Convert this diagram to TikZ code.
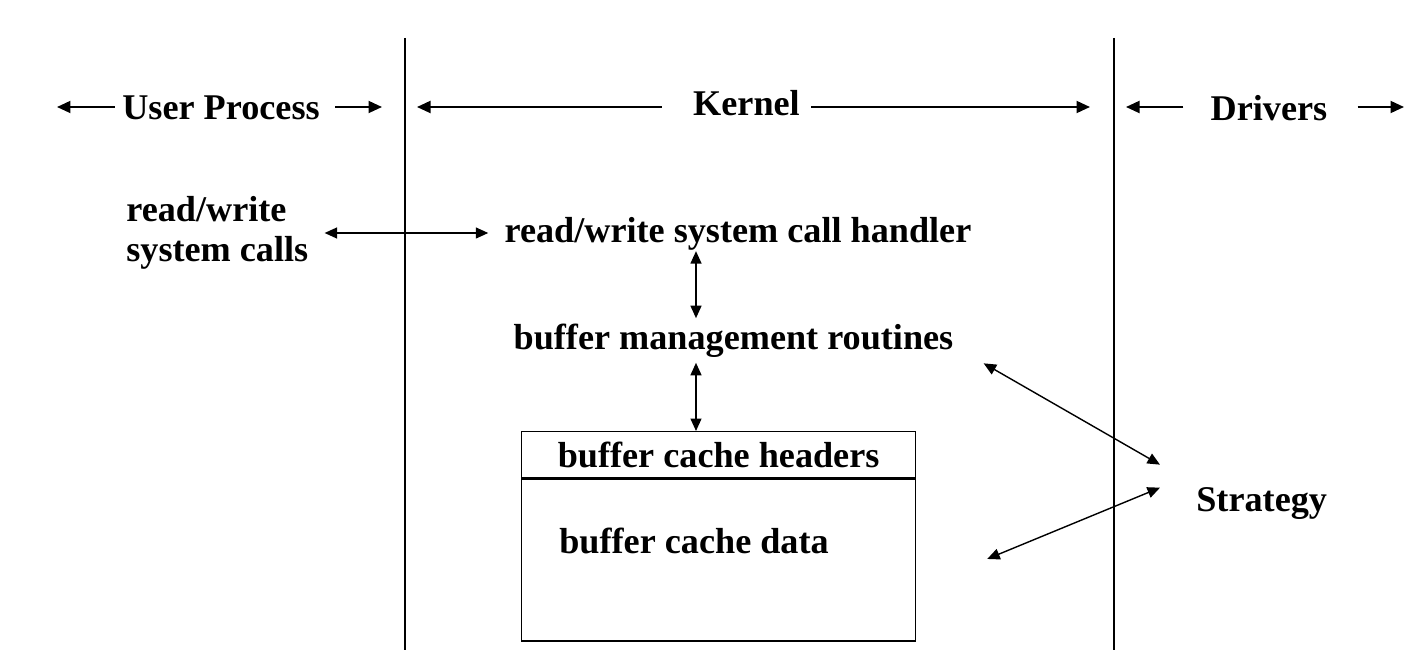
\documentclass[tikz,border=0pt]{standalone}
\usepackage{fontspec}
\setmainfont{Liberation Serif}
\usetikzlibrary{arrows.meta}

\tikzset{
  lbl/.style={font=\fontsize{20.6}{22.7}\selectfont\bfseries, inner sep=0pt},
  tip/.style={-{Triangle[length=0.27cm,width=0.24cm]}, line width=1.1pt},
  both/.style={{Triangle[length=0.25cm,width=0.22cm]}-{Triangle[length=0.25cm,width=0.22cm]}, line width=0.8pt},
  border/.style={line width=0.75pt},
  cachebox/.style={draw, line width=0.75pt, minimum width=7.88cm, inner sep=0pt},
}

\begin{document}
\begin{tikzpicture}[x=0.02cm,y=-0.02cm]
  \useasboundingbox (0,0) rectangle (1418,662);
  % borders between the three regions
  \draw[border] (405,38) -- (405,650);
  \draw[border] (1114,38) -- (1114,650);

  % region titles
  \coordinate (row) at (0,107);
  \node[lbl, anchor=base] (user) at (221,120) {User Process};
  \node[lbl, anchor=base] (kernel) at (746.5,116) {Kernel};
  \node[lbl, anchor=base] (drivers) at (1269,121) {Drivers};
  \coordinate (userL) at (57,107);
  \coordinate (userR) at (382,107);
  \coordinate (kernL) at (417,107);
  \coordinate (kernR) at (1090,107);
  \coordinate (drvL) at (1126,107);
  \coordinate (drvR) at (1404,107);
  \draw[tip, shorten <=0.14cm] (user.west |- row) -- (userL);
  \draw[tip, shorten <=0.3cm] (user.east |- row) -- (userR);
  \draw[tip, shorten <=0.62cm] (kernel.west |- row) -- (kernL);
  \draw[tip, shorten <=0.22cm] (kernel.east |- row) -- (kernR);
  \draw[tip, shorten <=0.54cm] (drivers.west |- row) -- (drvL);
  \draw[tip, shorten <=0.6cm] (drivers.east |- row) -- (drvR);

  % calls and routines
  \node[lbl, align=left, anchor=west] (rwcalls) at (126,233) {read/write\\system calls};
  \node[lbl, anchor=base] (handler) at (738,243) {read/write system call handler};
  \node[lbl, anchor=base] (bmr) at (733.5,350) {buffer management routines};
  \draw[both, shorten <=0.32cm, shorten >=0.32cm] (rwcalls.east) -- (rwcalls.east -| handler.west);

  \coordinate (ax) at (696,0);
  \draw[both, shorten >=0.12cm] (handler.south -| ax) -- (bmr.north -| ax);

  % buffer cache
  \node[cachebox, lbl, minimum height=0.92cm, anchor=north west] (hdr) at (521,431) {buffer cache headers};
  \node[cachebox, minimum height=3.24cm, anchor=north] (cache) at (hdr.south) {};
  \node[lbl, anchor=base west] (data) at (559,553) {buffer cache data};
  \draw[both, shorten <=0.09cm] (bmr.south -| ax) -- (hdr.north -| ax);

  % driver side
  \node[lbl, anchor=base west] (strat) at (1196,512) {Strategy};
  \draw[both] ([shift={(30,5)}]bmr.south east) -- ([shift={(-36,-23)}]strat.north west);
  \draw[both] ([shift={(-36,0)}]strat.north west) -- ([shift={(71,-1)}]cache.east);
\end{tikzpicture}
\end{document}
